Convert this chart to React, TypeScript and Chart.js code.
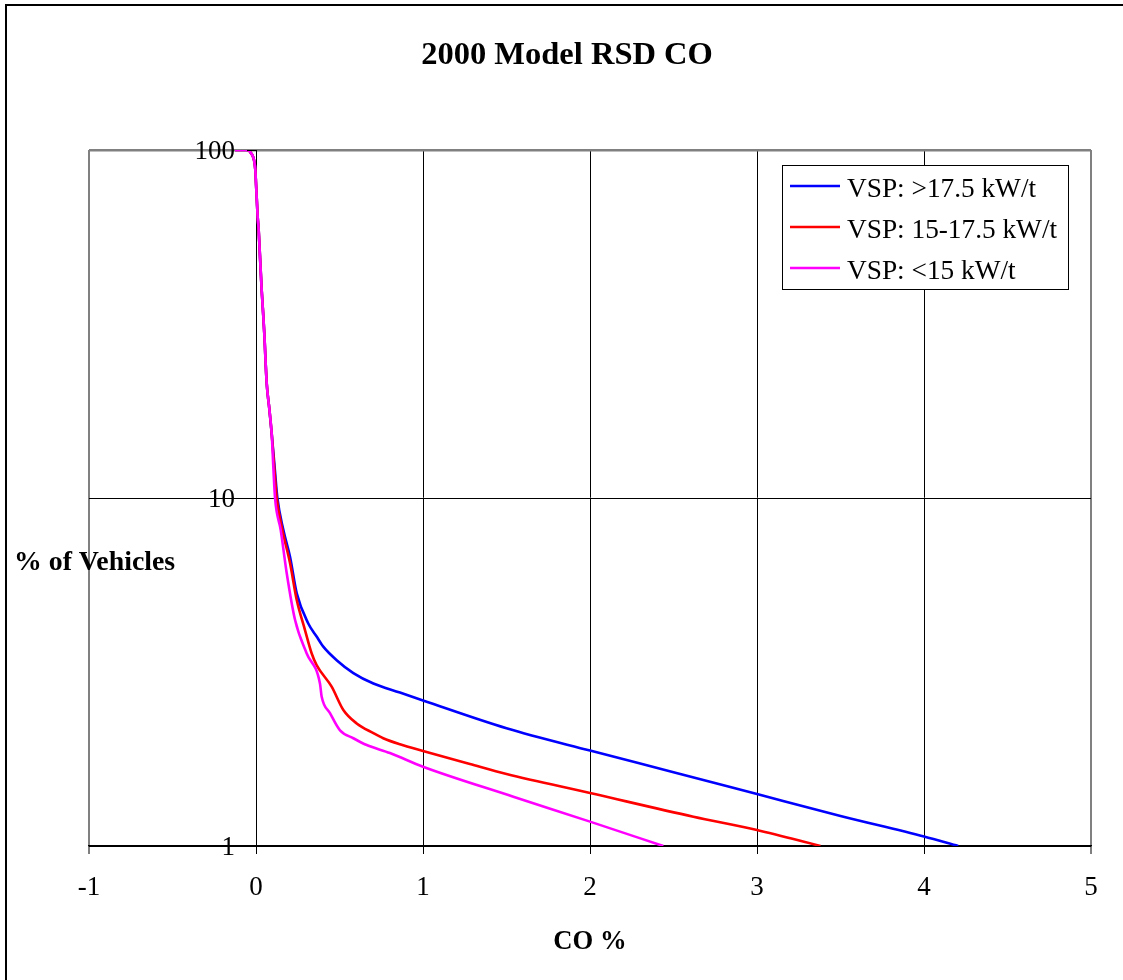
import React, { useEffect, useRef } from 'react';
import { Chart, registerables } from 'chart.js';

Chart.register(...registerables);

const FONT = "'Liberation Serif', 'Times New Roman', Times, serif";

const chartTitle = '2000 Model RSD CO';
const xAxisTitle = 'CO %';
const yAxisTitle = '% of Vehicles';

const seriesNames = ['VSP: >17.5 kW/t', 'VSP: 15-17.5 kW/t', 'VSP: <15 kW/t'];
const seriesColors = ['#0000FF', '#FF0000', '#FF00FF'];

const xTicks = [-1, 0, 1, 2, 3, 4, 5];
const yTicks = [1, 10, 100];

// shared upper part of the three distributions
const topX = [-0.126, -0.056, -0.026, -0.012, -0.004, 0, 0.004, 0.01, 0.016, 0.022, 0.034, 0.044, 0.05, 0.064, 0.08, 0.094];
const topY = [100, 100, 97.4, 93.6, 87.6, 80.2, 73.4, 64.3, 58.9, 51.6, 39.6, 33.2, 29.5, 21.4, 18, 15.3];

const blueX = [0.112, 0.128, 0.164, 0.204, 0.244, 0.313, 0.363, 0.403, 0.483, 0.583, 0.703, 0.862, 1.0, 1.5, 2.0, 2.5, 3.0, 3.5, 4.0, 4.205];
const blueY = [12.2, 10, 8.09, 6.77, 5.32, 4.36, 4.0, 3.74, 3.42, 3.14, 2.93, 2.76, 2.62, 2.18, 1.88, 1.63, 1.41, 1.22, 1.065, 1.0];

const redX = [0.11, 0.124, 0.158, 0.204, 0.244, 0.293, 0.333, 0.363, 0.453, 0.523, 0.603, 0.703, 0.762, 0.862, 1.0, 1.281, 1.5, 2.0, 2.619, 3.0, 3.38];
const redY = [12.1, 10, 8.09, 6.49, 5.09, 4.18, 3.58, 3.31, 2.87, 2.46, 2.25, 2.11, 2.04, 1.96, 1.875, 1.72, 1.61, 1.42, 1.214, 1.112, 1.0];

const magentaX = [0.104, 0.114, 0.148, 0.184, 0.234, 0.303, 0.383, 0.393, 0.443, 0.503, 0.583, 0.663, 0.802, 1.0, 1.541, 2.0, 2.439];
const magentaY = [12.2, 10, 8.09, 6.08, 4.46, 3.58, 2.93, 2.69, 2.41, 2.15, 2.04, 1.95, 1.85, 1.69, 1.386, 1.175, 1.0];

const seriesX = [blueX, redX, magentaX];
const seriesY = [blueY, redY, magentaY];

const toPoints = (xs: number[], ys: number[]) =>
  topX.map((x, i) => ({ x, y: topY[i] })).concat(xs.map((x, i) => ({ x, y: ys[i] })));

const decorPlugin = {
  id: 'decor',
  beforeDraw(chart: any) {
    const { ctx, width, height } = chart;
    ctx.save();
    ctx.fillStyle = '#ffffff';
    ctx.fillRect(0, 0, width, height);
    ctx.restore();
  },
  afterDraw(chart: any) {
    const { ctx, chartArea, scales } = chart;
    ctx.save();
    // outer frame (top and left visible)
    ctx.strokeStyle = '#000';
    ctx.lineWidth = 2;
    ctx.beginPath();
    ctx.moveTo(6, 980);
    ctx.lineTo(6, 5);
    ctx.lineTo(1123, 5);
    ctx.stroke();

    // value axis crossing at x = 0: tick marks and labels
    const axisX = Math.round(scales.x.getPixelForValue(0));
    ctx.strokeStyle = '#000';
    ctx.lineWidth = 1;
    ctx.font = `27px ${FONT}`;
    ctx.fillStyle = '#000';
    ctx.textAlign = 'right';
    ctx.textBaseline = 'middle';
    yTicks.forEach((v) => {
      const py = Math.round(scales.y.getPixelForValue(v)) + 0.5;
      ctx.beginPath();
      ctx.moveTo(axisX - 9, py);
      ctx.lineTo(axisX, py);
      ctx.stroke();
      ctx.fillText(String(v), axisX - 21, py + 1);
    });

    // title
    ctx.font = `bold 32.5px ${FONT}`;
    ctx.textAlign = 'center';
    ctx.textBaseline = 'alphabetic';
    ctx.fillText(chartTitle, 567, 64);

    // axis titles
    ctx.font = `bold 26.67px ${FONT}`;
    ctx.fillText(xAxisTitle, (chartArea.left + chartArea.right) / 2, 949);
    ctx.font = `bold 27.8px ${FONT}`;
    ctx.textAlign = 'left';
    ctx.fillText(yAxisTitle, 14, 570);

    // legend
    const lx = 782, ly = 165, lw = 286, lh = 124;
    ctx.fillStyle = '#fff';
    ctx.fillRect(lx, ly, lw, lh);
    ctx.strokeStyle = '#000';
    ctx.lineWidth = 1;
    ctx.strokeRect(lx + 0.5, ly + 0.5, lw, lh);
    const rows = [186, 227, 268];
    ctx.font = `27.3px ${FONT}`;
    ctx.textBaseline = 'alphabetic';
    ctx.textAlign = 'left';
    seriesNames.forEach((name, i) => {
      ctx.strokeStyle = seriesColors[i];
      ctx.lineWidth = 2.5;
      ctx.beginPath();
      ctx.moveTo(790, rows[i]);
      ctx.lineTo(840, rows[i]);
      ctx.stroke();
      ctx.fillStyle = '#000';
      ctx.fillText(name, 847, rows[i] + 11);
    });
    ctx.restore();
  },
};

export default function App() {
  const canvasRef = useRef<HTMLCanvasElement | null>(null);

  useEffect(() => {
    document.body.style.margin = '0';
    const canvas = canvasRef.current;
    if (!canvas) return;
    const datasets = seriesNames.map((name, i) => ({
      label: name,
      data: toPoints(seriesX[i], seriesY[i]),
      borderColor: seriesColors[i],
      backgroundColor: seriesColors[i],
      borderWidth: 2.6,
      pointRadius: 0,
      cubicInterpolationMode: 'monotone',
      fill: false,
      order: 2 - i,
    }));
    const chart = new Chart(canvas, {
      type: 'line',
      data: { datasets },
      plugins: [decorPlugin],
      options: {
        responsive: false,
        animation: false,
        devicePixelRatio: 1,
        layout: { padding: { left: 89, right: 32, top: 150, bottom: 74 } },
        plugins: {
          legend: { display: false },
          title: { display: false },
          tooltip: { enabled: false },
        },
        scales: {
          x: {
            type: 'linear',
            position: 'bottom',
            min: -1,
            max: 5,
            afterBuildTicks: (scale: any) => {
              scale.ticks = xTicks.map((v) => ({ value: v }));
            },
            afterFit: (scale: any) => {
              scale.height = 60;
            },
            ticks: {
              stepSize: 1,
              color: '#000',
              padding: 18,
              font: { family: FONT, size: 27 },
              callback: (v: any) => String(v),
            },
            grid: {
              color: (c: any) => (c.tick && (c.tick.value === -1 || c.tick.value === 5) ? '#808080' : '#000'),
              lineWidth: (c: any) => (c.tick && (c.tick.value === -1 || c.tick.value === 5) ? 2 : 1),
              tickColor: '#000',
              tickWidth: 1,
              tickLength: 8,
              drawTicks: true,
            },
            border: { display: true, color: '#000', width: 1.5 },
          },
          y: {
            type: 'logarithmic',
            position: { x: 0 } as any,
            min: 1,
            max: 100,
            afterBuildTicks: (scale: any) => {
              scale.ticks = yTicks.map((v) => ({ value: v }));
            },
            ticks: {
              display: false,
              callback: (v: any) => String(v),
            },
            grid: {
              color: (c: any) => (c.tick && c.tick.value === 100 ? '#808080' : '#000'),
              lineWidth: (c: any) => (c.tick && c.tick.value === 100 ? 2.5 : 1),
              drawTicks: false,
            },
            border: { display: true, color: '#000', width: 1 },
          },
        },
      } as any,
    });
    return () => chart.destroy();
  }, []);

  return (
    <div style={{ position: 'absolute', left: 0, top: 0, width: 1123, height: 980 }}>
      <canvas ref={canvasRef} width={1123} height={980} style={{ display: 'block', width: 1123, height: 980 }} />
    </div>
  );
}
